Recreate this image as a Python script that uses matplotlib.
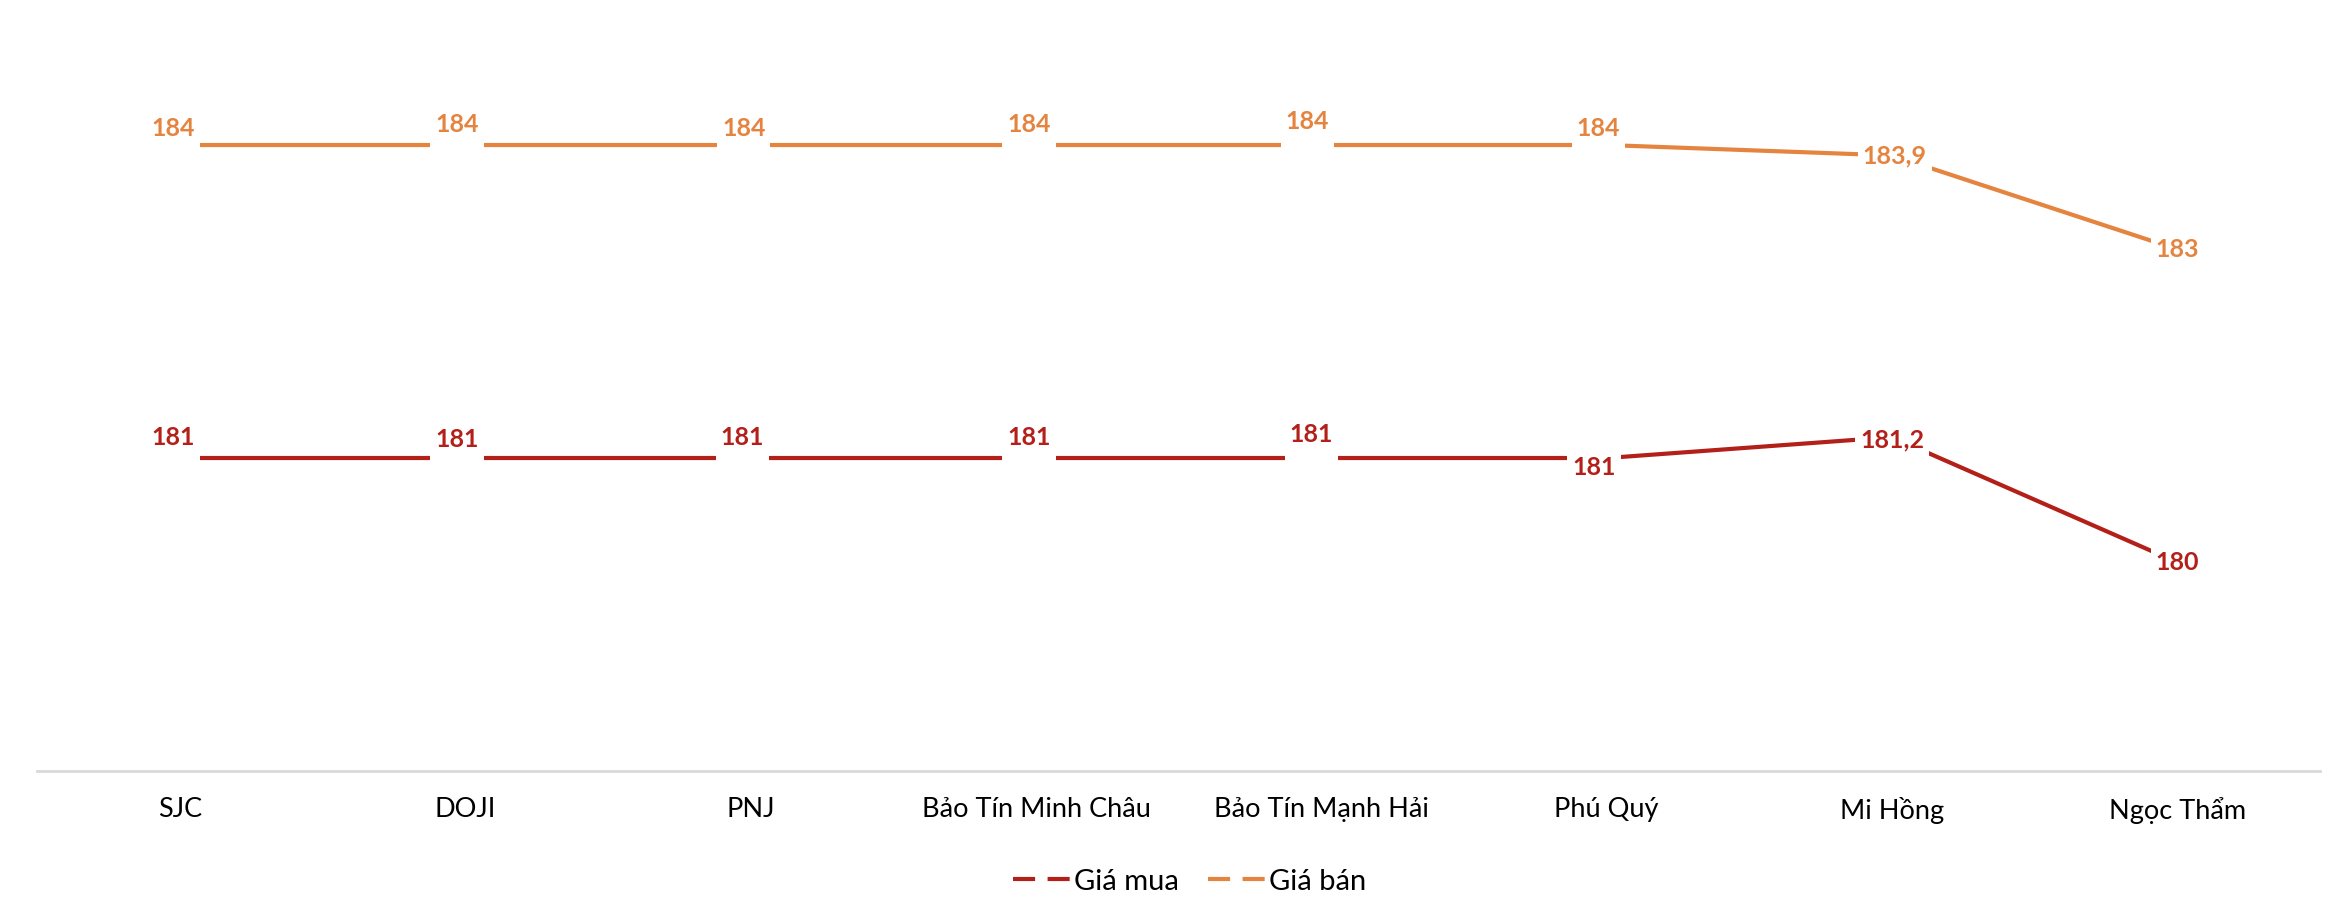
import matplotlib
matplotlib.use('Agg')
import matplotlib.pyplot as plt
from matplotlib.lines import Line2D
from matplotlib.path import Path

plt.rcParams['font.family'] = ['Lato', 'Noto Sans', 'DejaVu Sans']

stores = ['SJC', 'DOJI', 'PNJ', 'Bảo Tín Minh Châu', 'Bảo Tín Mạnh Hải',
          'Phú Quý', 'Mi Hồng', 'Ngọc Thẩm']
gia_mua = [181, 181, 181, 181, 181, 181, 181.2, 180]
gia_ban = [184, 184, 184, 184, 184, 184, 183.9, 183]

red = '#B3201A'
orange = '#E5843F'

# label offsets (points) - mimic excel auto placement
ban_off = [(-5, 12), (-6, 15), (-5, 12), (-5, 15), (-10, 17), (-6, 12), (2, 0), (0, 0)]
mua_off = [(-5, 15), (-6, 13), (-6, 15), (-5, 15), (-7, 17), (-9, -7), (0, -2), (0, 0)]


def label_box(x0, y0, width, height, mutation_size):
    # white box, narrow on the sides but tall, so the line gets cut like in excel
    px = 0.2 * mutation_size
    py = 0.7 * mutation_size
    x0, x1 = x0 - px, x0 + width + px
    y0, y1 = y0 - py, y0 + height + py
    return Path([(x0, y0), (x1, y0), (x1, y1), (x0, y1), (x0, y0)], closed=True)


def fmt(v):
    s = ('%.1f' % v).rstrip('0').rstrip('.')
    return s.replace('.', ',')


fig = plt.figure(figsize=(23.28, 9.06), dpi=100)
ax = fig.add_axes([0.016, 0.149, 0.9806, 0.851])

x = list(range(len(stores)))
ax.plot(x, gia_mua, color=red, lw=3, zorder=2)
ax.plot(x, gia_ban, color=orange, lw=3, zorder=2)

for i in x:
    ax.annotate(fmt(gia_ban[i]), (i, gia_ban[i]), xytext=ban_off[i], textcoords='offset points',
                ha='center', va='center', fontsize=18, fontweight='bold', color=orange, zorder=3,
                bbox=dict(boxstyle=label_box, fc='white', ec='none'))
    ax.annotate(fmt(gia_mua[i]), (i, gia_mua[i]), xytext=mua_off[i], textcoords='offset points',
                ha='center', va='center', fontsize=18, fontweight='bold', color=red, zorder=3,
                bbox=dict(boxstyle=label_box, fc='white', ec='none'))

ax.set_xlim(-0.5, len(stores) - 0.5)
ax.set_ylim(178, 185.39)
ax.set_xticks(x)
ax.set_xticklabels(stores, fontsize=19.5)
ax.tick_params(axis='x', length=0, pad=19)
ax.set_yticks([])
for s in ['top', 'left', 'right']:
    ax.spines[s].set_visible(False)
ax.spines['bottom'].set_color('#D9D9D9')
ax.spines['bottom'].set_linewidth(2)

handles = [Line2D([], [], color=red, lw=3, linestyle=(0, (5.3, 3))),
           Line2D([], [], color=orange, lw=3, linestyle=(0, (5.3, 3)))]
fig.legend(handles, ['Giá mua', 'Giá bán'], loc='center', bbox_to_anchor=(0.511, 0.027),
           ncol=2, frameon=False, fontsize=21, handlelength=1.95, handletextpad=0.15,
           columnspacing=1.0)

fig.savefig('out.png', dpi=100)
